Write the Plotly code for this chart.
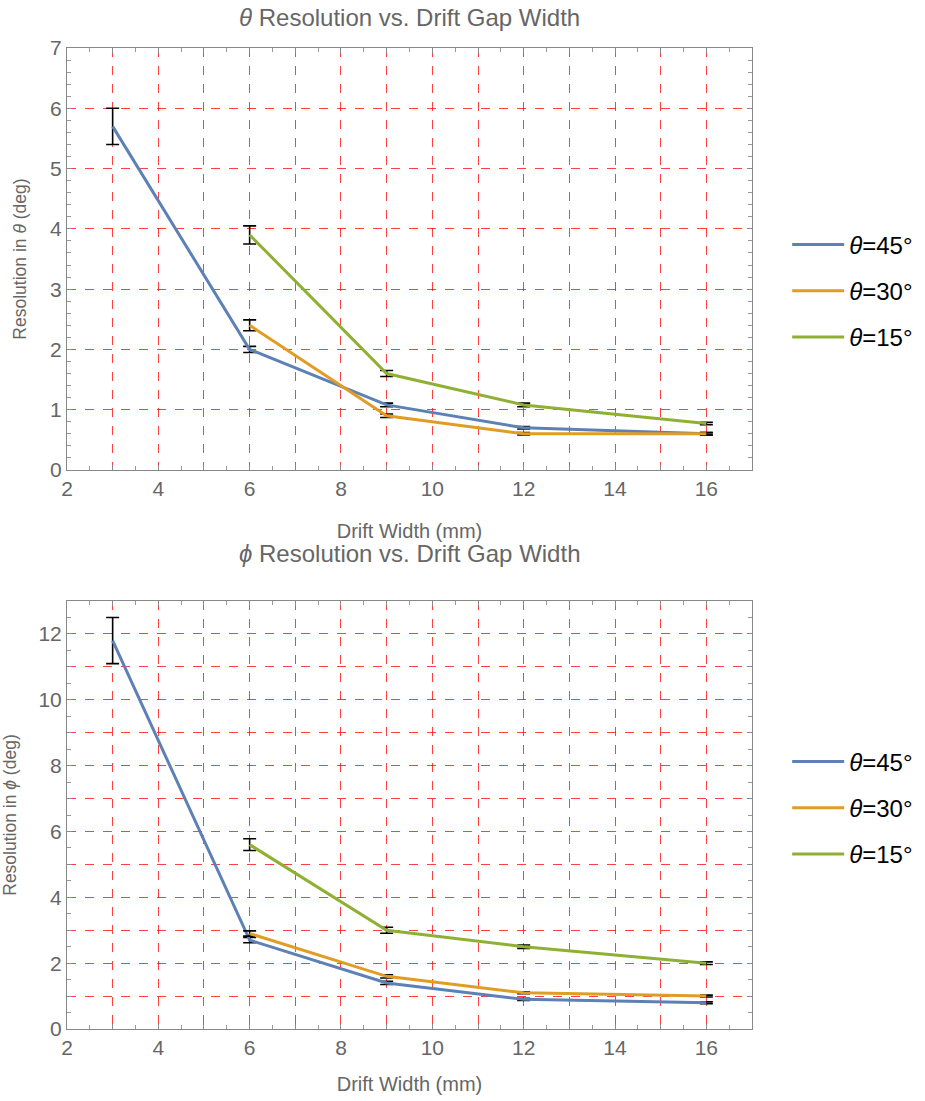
import plotly.graph_objects as go

# Drift gap widths (mm)
width_45 = [3, 6, 9, 12, 16]
width_30 = [6, 9, 12, 16]
width_15 = [6, 9, 12, 16]

# Theta resolution (deg) and uncertainties
theta_res_45 = [5.7, 2.0, 1.08, 0.7, 0.6]
theta_err_45 = [0.3, 0.05, 0.03, 0.02, 0.02]
theta_res_30 = [2.4, 0.9, 0.6, 0.6]
theta_err_30 = [0.09, 0.03, 0.02, 0.02]
theta_res_15 = [3.9, 1.6, 1.08, 0.77]
theta_err_15 = [0.15, 0.05, 0.03, 0.02]

# Phi resolution (deg) and uncertainties
phi_res_45 = [11.8, 2.7, 1.4, 0.9, 0.8]
phi_err_45 = [0.7, 0.08, 0.05, 0.03, 0.03]
phi_res_30 = [2.9, 1.6, 1.1, 1.0]
phi_err_30 = [0.08, 0.05, 0.03, 0.03]
phi_res_15 = [5.6, 3.0, 2.5, 2.0]
phi_err_15 = [0.18, 0.09, 0.05, 0.04]

series_names = ["<i>θ</i>=45°", "<i>θ</i>=30°", "<i>θ</i>=15°"]
series_colors = ["#5E81B5", "#E19C24", "#8FB032"]

FONT = "Liberation Sans, Arial, sans-serif"
GREY = "#666666"
GRID = "rgba(255,0,0,0.75)"

fig = go.Figure()

top = [(width_45, theta_res_45, theta_err_45),
       (width_30, theta_res_30, theta_err_30),
       (width_15, theta_res_15, theta_err_15)]
bottom = [(width_45, phi_res_45, phi_err_45),
          (width_30, phi_res_30, phi_err_30),
          (width_15, phi_res_15, phi_err_15)]

for i, (x, y, e) in enumerate(top):
    fig.add_trace(go.Scatter(
        x=x, y=y, mode="lines", name=series_names[i],
        line=dict(color=series_colors[i], width=3),
        error_y=dict(type="data", array=e, color="black", thickness=1.6, width=6.5),
        xaxis="x", yaxis="y", legend="legend", legendgroup=f"t{i}",
    ))
for i, (x, y, e) in enumerate(bottom):
    fig.add_trace(go.Scatter(
        x=x, y=y, mode="lines", name=series_names[i],
        line=dict(color=series_colors[i], width=3),
        error_y=dict(type="data", array=e, color="black", thickness=1.6, width=6.5),
        xaxis="x2", yaxis="y2", legend="legend2", legendgroup=f"p{i}",
    ))

x_ticks = list(range(2, 18))
x_text = [str(v) if v % 2 == 0 and v <= 16 else "" for v in x_ticks]


def x_axis(anchor, title, standoff):
    return dict(
        domain=[0.0724, 0.813], anchor=anchor, range=[2, 17],
        tickvals=x_ticks, ticktext=x_text,
        ticks="inside", ticklen=5, tickcolor="#888888", tickwidth=1,
        minor=dict(dtick=0.5, tick0=2, ticks="inside", ticklen=4,
                   tickcolor="#999999", showgrid=False),
        showline=True, linecolor="#888888", linewidth=1, mirror="allticks",
        showgrid=True, gridcolor=GRID, griddash="dash", gridwidth=1,
        zeroline=False,
        tickfont=dict(family=FONT, size=21, color=GREY),
        title=dict(text=title, font=dict(family=FONT, size=20, color=GREY), standoff=standoff),
    )


def y_axis(domain, anchor, top_val, label_step, minor_step, title):
    vals = list(range(0, top_val + 1))
    text = [str(v) if v % label_step == 0 else "" for v in vals]
    return dict(
        domain=domain, anchor=anchor, range=[0, top_val],
        tickvals=vals, ticktext=text,
        ticks="inside", ticklen=5, tickcolor="#888888", tickwidth=1,
        minor=dict(dtick=minor_step, tick0=0, ticks="inside", ticklen=4,
                   tickcolor="#999999", showgrid=False),
        showline=True, linecolor="#888888", linewidth=1, mirror="allticks",
        showgrid=True, gridcolor=GRID, griddash="dash", gridwidth=1,
        zeroline=False,
        tickfont=dict(family=FONT, size=21, color=GREY),
        title=dict(text=title, font=dict(family=FONT, size=17.5, color=GREY), standoff=18),
    )


legend_style = dict(
    font=dict(family=FONT, size=24, color="black"),
    bgcolor="rgba(0,0,0,0)", tracegroupgap=12, itemwidth=52,
    xanchor="left", yanchor="middle", x=0.851,
)

fig.update_layout(
    width=925, height=1101,
    margin=dict(l=0, r=0, t=0, b=0, autoexpand=False),
    paper_bgcolor="white", plot_bgcolor="white",
    xaxis=x_axis("y", "Drift Width (mm)", 24),
    yaxis=y_axis([0.5731, 0.9564], "x", 7, 1, 0.2, "Resolution in <i>θ</i> (deg)"),
    xaxis2=x_axis("y2", "Drift Width (mm)", 18),
    yaxis2=y_axis([0.0654, 0.4541], "x2", 13, 2, 0.5, "Resolution in <i>ϕ</i> (deg)"),
    legend=dict(y=1 - 291 / 1101, **legend_style),
    legend2=dict(y=1 - 808 / 1101, **legend_style),
    annotations=[
        dict(text="<i>θ</i> Resolution vs. Drift Gap Width", x=0.4427, y=1 - 17 / 1101,
             xref="paper", yref="paper", showarrow=False, xanchor="center", yanchor="middle",
             font=dict(family=FONT, size=24, color=GREY)),
        dict(text="<i>ϕ</i> Resolution vs. Drift Gap Width", x=0.4427, y=1 - 553 / 1101,
             xref="paper", yref="paper", showarrow=False, xanchor="center", yanchor="middle",
             font=dict(family=FONT, size=24, color=GREY)),
    ],
    showlegend=True,
)

fig.write_html("out.html")
